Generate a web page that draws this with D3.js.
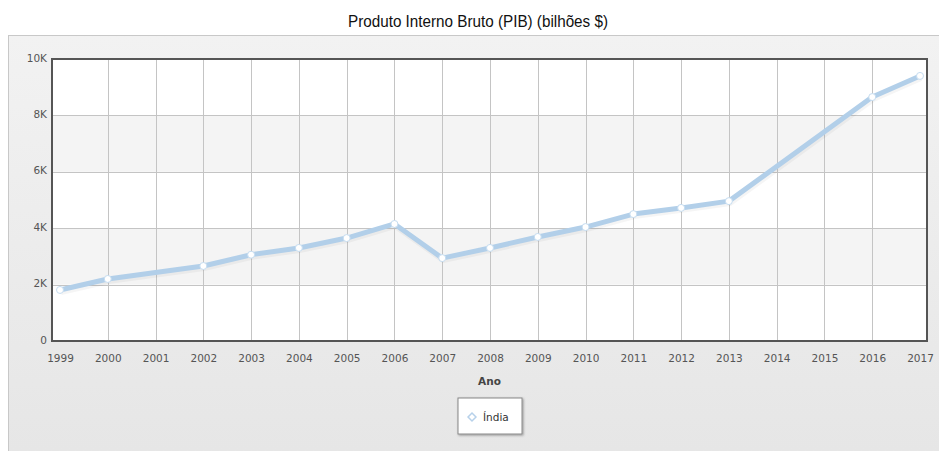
<!DOCTYPE html>
<html>
<head>
<meta charset="utf-8">
<script src="https://cdn.jsdelivr.net/npm/d3@7"></script>
<style>
  body { margin: 0; background: #fff; }
  #chart { width: 939px; height: 451px; }
</style>
</head>
<body>
<div id="chart"></div>
<script>
(function () {
    var width = 939,
        height = 451;

    // data (null = no point drawn for that year)
    var years = [1999, 2000, 2001, 2002, 2003, 2004, 2005, 2006, 2007, 2008,
                 2009, 2010, 2011, 2012, 2013, 2014, 2015, 2016, 2017];
    var pib = [1810, 2200, null, 2660, 3060, 3300, 3650, 4150, 2940, 3300,
               3690, 4040, 4500, 4720, 4960, null, null, 8650, 9400];
    var yTicks = [0, 2000, 4000, 6000, 8000, 10000];
    var seriesName = "Índia";
    var title = "Produto Interno Bruto (PIB) (bilhões $)";
    var xTitle = "Ano";

    var plot = { left: 52, top: 59, right: 927, bottom: 341 };

    var svg = d3.select("#chart")
        .append("svg")
        .attr("width", width)
        .attr("height", height)

    var defs = svg.append("defs");

    var grad = defs.append("linearGradient")
        .attr("id", "panel-grad")
        .attr("x1", 0).attr("y1", 0).attr("x2", 0).attr("y2", 1)
    grad.append("stop").attr("offset", "0%").attr("stop-color", "#f2f2f2")
    grad.append("stop").attr("offset", "100%").attr("stop-color", "#e6e6e6")

    var shadow = defs.append("filter").attr("id", "shadow")
        .attr("x", "-20%").attr("y", "-20%").attr("width", "140%").attr("height", "140%")
    shadow.append("feDropShadow")
        .attr("dx", 1).attr("dy", 1).attr("stdDeviation", 1)
        .attr("flood-color", "#000").attr("flood-opacity", 0.35)

    // title (condensed look)
    svg.append("text")
        .attr("x", 478)
        .attr("y", 27)
        .attr("text-anchor", "middle")
        .attr("textLength", 260)
        .attr("lengthAdjust", "spacingAndGlyphs")
        .style("font-family", "'Liberation Sans', Arial, sans-serif")
        .style("font-size", "16.5px")
        .style("fill", "#111")
        .text(title)

    // outer panel
    svg.append("rect")
        .attr("x", 8.5).attr("y", 35.5)
        .attr("width", width - 8).attr("height", height - 35)
        .attr("fill", "url(#panel-grad)")
        .attr("stroke", "#c8c8c8")

    var x = d3.scaleLinear().domain([1999, 2017]).range([60, 920])
    var y = d3.scaleLinear().domain([0, 10000]).range([plot.bottom, plot.top])

    // plot background with alternate bands
    svg.append("rect")
        .attr("x", plot.left).attr("y", plot.top)
        .attr("width", plot.right - plot.left).attr("height", plot.bottom - plot.top)
        .attr("fill", "#fff")

    var bands = d3.pairs(yTicks).filter(function (d, i) { return i % 2 === 1 })
    svg.selectAll(".band")
        .data(bands)
        .enter().append("rect")
        .attr("class", "band")
        .attr("x", plot.left)
        .attr("width", plot.right - plot.left)
        .attr("y", function (d) { return y(d[1]) })
        .attr("height", function (d) { return y(d[0]) - y(d[1]) })
        .attr("fill", "#f4f4f4")

    // grid
    svg.append("g")
        .attr("transform", "translate(0," + plot.bottom + ")")
        .call(d3.axisBottom(x)
            .tickValues(years.slice(1, -1))
            .tickSize(-(plot.bottom - plot.top))
            .tickFormat(""))
        .call(function (g) {
            g.select(".domain").remove()
            g.selectAll("line").attr("stroke", "#c4c4c4").attr("shape-rendering", "crispEdges")
        })

    svg.append("g")
        .attr("transform", "translate(" + plot.left + ",0)")
        .call(d3.axisLeft(y)
            .tickValues(yTicks.slice(1, -1))
            .tickSize(-(plot.right - plot.left))
            .tickFormat(""))
        .call(function (g) {
            g.select(".domain").remove()
            g.selectAll("line").attr("stroke", "#c4c4c4").attr("shape-rendering", "crispEdges")
        })

    // plot border
    svg.append("rect")
        .attr("x", plot.left).attr("y", plot.top)
        .attr("width", plot.right - plot.left).attr("height", plot.bottom - plot.top)
        .attr("fill", "none")
        .attr("stroke", "#555")
        .attr("stroke-width", 2)

    // axis labels
    var labelFont = "'DejaVu Sans', Verdana, sans-serif"

    svg.append("g")
        .attr("transform", "translate(0," + plot.bottom + ")")
        .call(d3.axisBottom(x).tickValues(years).tickSize(0).tickPadding(14).tickFormat(d3.format("d")))
        .call(function (g) {
            g.select(".domain").remove()
            g.selectAll("text")
                .style("font-family", labelFont)
                .style("font-size", "10.5px")
                .attr("fill", "#555")
        })

    svg.append("g")
        .attr("transform", "translate(" + plot.left + ",0)")
        .call(d3.axisLeft(y).tickValues(yTicks).tickSize(0).tickPadding(5)
            .tickFormat(function (d) { return d === 0 ? "0" : (d / 1000) + "K" }))
        .call(function (g) {
            g.select(".domain").remove()
            g.selectAll("text")
                .style("font-family", labelFont)
                .style("font-size", "10.5px")
                .attr("fill", "#555")
                .attr("dy", "0.2em")
        })

    svg.append("text")
        .attr("x", (plot.left + plot.right) / 2)
        .attr("y", 385)
        .attr("text-anchor", "middle")
        .style("font-family", labelFont)
        .style("font-size", "10.5px")
        .style("font-weight", "bold")
        .attr("fill", "#444")
        .text(xTitle)

    // series
    var points = years.map(function (yr, i) { return { year: yr, value: pib[i] } })
        .filter(function (d) { return d.value !== null })

    var line = d3.line()
        .x(function (d) { return x(d.year) })
        .y(function (d) { return y(d.value) })

    svg.append("path")
        .datum(points)
        .attr("d", line)
        .attr("fill", "none")
        .attr("stroke", "#000")
        .attr("stroke-opacity", 0.04)
        .attr("stroke-width", 6)
        .attr("transform", "translate(1,2)")

    svg.append("path")
        .datum(points)
        .attr("d", line)
        .attr("fill", "none")
        .attr("stroke", "#b2cfe9")
        .attr("stroke-width", 5)
        .attr("stroke-linejoin", "round")

    svg.selectAll(".pt")
        .data(points)
        .enter().append("circle")
        .attr("class", "pt")
        .attr("cx", function (d) { return x(d.year) })
        .attr("cy", function (d) { return y(d.value) })
        .attr("r", 3.5)
        .attr("fill", "#fff")
        .attr("stroke", "#c5dcf0")
        .attr("stroke-width", 1)

    // legend
    var legend = svg.append("g").attr("transform", "translate(458,398)")
    legend.append("rect")
        .attr("width", 64).attr("height", 36)
        .attr("fill", "#fff")
        .attr("stroke", "#888")
        .attr("filter", "url(#shadow)")
    legend.append("path")
        .attr("d", d3.symbol(d3.symbolDiamond2, 40))
        .attr("transform", "translate(14,19)")
        .attr("fill", "#fff")
        .attr("stroke", "#b7d1ea")
        .attr("stroke-width", 1.5)
    legend.append("text")
        .attr("x", 25).attr("y", 23)
        .style("font-family", labelFont)
        .style("font-size", "10.5px")
        .attr("fill", "#333")
        .text(seriesName)
})();
</script>
</body>
</html>
